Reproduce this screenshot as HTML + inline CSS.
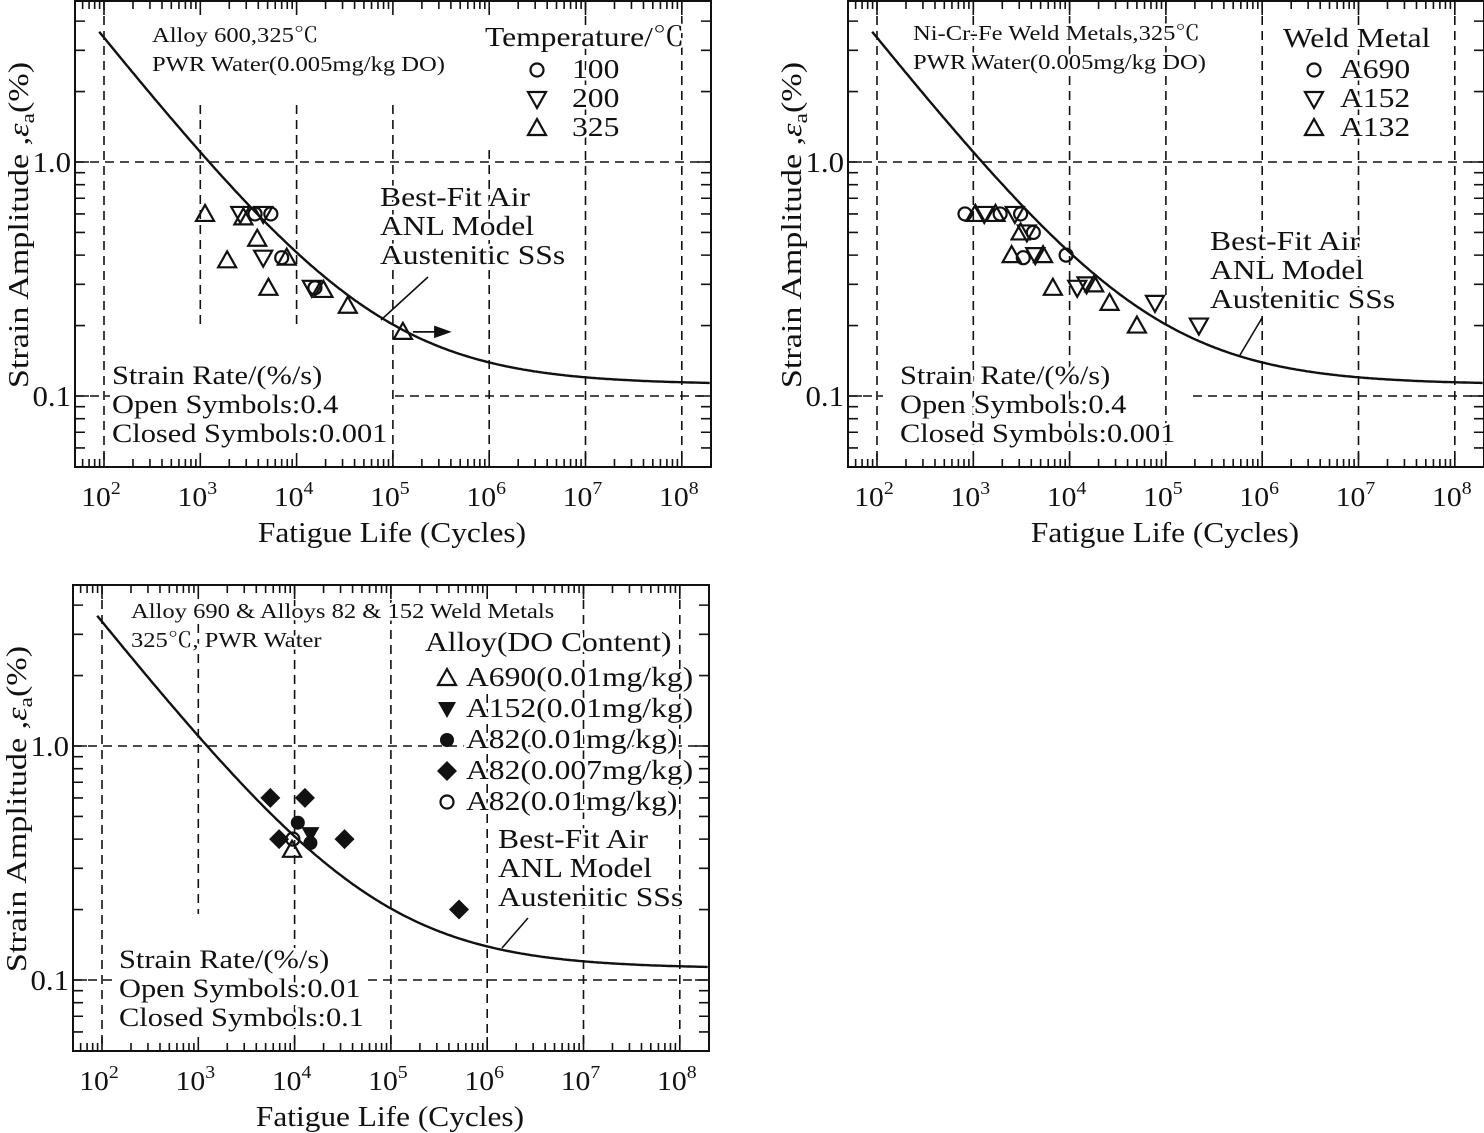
<!DOCTYPE html>
<html><head><meta charset="utf-8">
<style>
html,body{margin:0;padding:0;background:#fff;}
svg{display:block;font-family:"Liberation Serif","Noto Serif CJK SC",serif;}
text.h{paint-order:stroke;stroke:#fff;stroke-width:5px;stroke-linejoin:round;}
</style></head>
<body>
<svg id="chart" width="1484" height="1133" viewBox="0 0 1484 1133" xmlns="http://www.w3.org/2000/svg"></svg>
<script>
// ---- Panel 1 data (Alloy 600) ----
const p1Types = ['tri','tri','tridown','tri','circle','tridown','circle','tri','tridown','tri','circle','tri','tridown','circle','tri','tri','tri'];
const p1N =     [1120, 1900, 2600, 2800, 3700, 4500, 5400, 3900, 4500, 5100, 7000, 7900, 14400, 15500, 19000, 34000, 127000];
const p1E =     [0.60, 0.38, 0.60, 0.58, 0.60, 0.60, 0.60, 0.47, 0.39, 0.29, 0.39, 0.39, 0.29, 0.29, 0.284, 0.243, 0.188];
// ---- Panel 2 data (Ni-Cr-Fe weld metals) ----
const p2Types = ['circle','tri','tridown','tri','circle','tridown','circle','tri','tridown','circle','tri','circle','tridown','tri','circle','tri','tridown','tridown','tri','tri','tridown','tri','tridown'];
const p2N =     [820, 1050, 1300, 1700, 1900, 2700, 3100, 3100, 3600, 4200, 2500, 3300, 4400, 5300, 9200, 6700, 12000, 15000, 18000, 26000, 77000, 50000, 220000];
const p2E =     [0.60, 0.60, 0.60, 0.60, 0.60, 0.60, 0.60, 0.50, 0.50, 0.50, 0.40, 0.39, 0.40, 0.40, 0.40, 0.29, 0.29, 0.30, 0.30, 0.25, 0.25, 0.20, 0.20];
// ---- Panel 3 data (Alloy 690 & 82/152) ----
const p3Types = ['diamond','diamond','dot','diamond','circle','tridownf','dot','diamond','tri','diamond'];
const p3N =     [5600, 12800, 10800, 6900, 9600, 14600, 14600, 33000, 9400, 510000];
const p3E =     [0.60, 0.60, 0.47, 0.40, 0.40, 0.42, 0.385, 0.40, 0.36, 0.20];
// tick labels
const xDecades = [2,3,4,5,6,7,8];
const yMajors = [0.1, 1.0];
const yMajorLabels = ['0.1','1.0'];

const NS='http://www.w3.org/2000/svg';
const svg=document.getElementById('chart');
function el(tag, attrs, parent){
  const e=document.createElementNS(NS,tag);
  for(const k in attrs) e.setAttribute(k,attrs[k]);
  (parent||svg).appendChild(e);
  return e;
}
function txt(x,y,s,size,anchor,name,parent,sx){
  const t=el('text',{x:0,y:0,'font-size':size,'text-anchor':anchor||'start',fill:'#111',class:'h',transform:`translate(${x},${y}) scale(${sx||1.17},1)`},parent);
  t.textContent=s;
  
  
  return t;
}
function makeScales(ox,oy){
  return {
    x:n=>ox+104+(Math.log10(n)-2)*96.3,
    y:e=>oy+162-Math.log10(e)*234
  };
}
function marker(g,type,x,y){
  let m;
  if(type==='circle') m=el('circle',{cx:x,cy:y,r:6.5,fill:'none',stroke:'#111','stroke-width':2.2},g);
  else if(type==='dot') m=el('circle',{cx:x,cy:y,r:7,fill:'#111'},g);
  else if(type==='tri') m=el('polygon',{points:`${x},${y-9} ${x-9},${y+7} ${x+9},${y+7}`,fill:'none',stroke:'#111','stroke-width':2.2},g);
  else if(type==='tridown') m=el('polygon',{points:`${x},${y+9} ${x-9},${y-7} ${x+9},${y-7}`,fill:'none',stroke:'#111','stroke-width':2.2},g);
  else if(type==='tridownf') m=el('polygon',{points:`${x},${y+9} ${x-9},${y-7} ${x+9},${y-7}`,fill:'#111'},g);
  else m=el('polygon',{points:`${x},${y-10} ${x+10},${y} ${x},${y+10} ${x-10},${y}`,fill:'#111'},g);
  
  
  return m;
}
function panel(cfg){
  const ox=cfg.ox, oy=cfg.oy, S=makeScales(ox,oy);
  const g=el('g',{});
  
  
  const L=ox+75,R=ox+711,T=oy+1,B=oy+467;
  const dash={stroke:'#111','stroke-width':1.6,'stroke-dasharray':'9,6',fill:'none'};
  cfg.vlines.forEach(v=>{
    const gl=el('line',Object.assign({x1:S.x(Math.pow(10,v[0])),x2:S.x(Math.pow(10,v[0])),y1:oy+v[1],y2:oy+v[2]},dash),g);
    
    
  });
  cfg.hlines.forEach(h=>{
    const gl=el('line',Object.assign({x1:ox+h[1],x2:ox+h[2],y1:S.y(h[0]),y2:S.y(h[0])},dash),g);
    
    
  });
  // text blocks (drawn before ticks/frame/curve so halos only cover grid)
  cfg.sr.forEach((s,i)=>txt(ox+cfg.srx,oy+384+i*29,s,26,'start','strain-rate-note',g));
  cfg.title.forEach((s,i)=>txt(ox+cfg.tx,oy+cfg.ty+i*29,s,cfg.tsize,'start','panel-title',g));
  txt(ox+cfg.leg.x,oy+cfg.leg.y,cfg.leg.head,cfg.leg.hs,'start','legend-title',g);
  cfg.leg.items.forEach((it,i)=>{
    const yy=oy+cfg.leg.y0+i*cfg.leg.dy;
    txt(ox+cfg.leg.tx,yy,it[1],27,'start','legend-entry',g);
  });
  ['Best-Fit Air','ANL Model','Austenitic SSs'].forEach((s,i)=>txt(ox+cfg.bf[0],oy+cfg.bf[1]+i*29,s,27,'start','curve-annotation',g));
  cfg.leg.items.forEach((it,i)=>{ marker(g,it[0],ox+cfg.leg.mx,oy+cfg.leg.y0+i*cfg.leg.dy-8); });
  // ticks
  let tp='';
  for(let d=1;d<=8;d++){for(let k=1;k<=9;k++){const n=k*Math.pow(10,d);const x=S.x(n);if(x<L+1||x>R-1)continue;const len=(k===1)?14:8;tp+=`M${x},${B}V${B-len}M${x},${T}V${T+len}`;}}
  for(let d=-2;d<=0;d++){for(let k=1;k<=9;k++){const e=k*Math.pow(10,d);const y=S.y(e);if(y<T+1||y>B-1)continue;const len=(k===1)?14:10;tp+=`M${L},${y}H${L+len}M${R},${y}H${R-len}`;}}
  const ticks=el('path',{d:tp,stroke:'#111','stroke-width':1.6,fill:'none'},g);
  
  
  const box=el('rect',{x:L,y:T,width:R-L,height:B-T,fill:'none',stroke:'#111','stroke-width':2},g);
  
  
  xDecades.forEach(d=>{
    const t=txt(S.x(Math.pow(10,d))-3,oy+506,'10',27,'middle','x-tick-label',g,1.1);
    const s=el('tspan',{'font-size':18,dy:-12},t); s.textContent=String(d);
  });
  yMajors.forEach((v,i)=>{ txt(ox+71,S.y(v)+10,yMajorLabels[i],28,'end','y-tick-label',g,1.1); });
  txt(ox+392,oy+542,'Fatigue Life (Cycles)',28,'middle','x-axis-title',g,1.12);
  const yt=el('text',{'font-size':28,'text-anchor':'middle',fill:'#111',transform:`translate(${ox+28},${oy+225}) rotate(-90) scale(1.22,1)`},g);
  
  
  const e0=el('tspan',{},yt); e0.textContent='Strain Amplitude ,';
  const e1=el('tspan',{'font-style':'italic'},yt); e1.textContent='ε';
  const e2=el('tspan',{'font-size':19,dy:6},yt); e2.textContent='a';
  const e3=el('tspan',{dy:-6},yt); e3.textContent='(%)';
  let cp='';
  for(let lg=cfg.c0;lg<=8.3;lg+=0.02){const n=Math.pow(10,lg);const e=0.112+Math.exp((6.891-Math.log(n))/1.920);cp+=(cp?'L':'M')+S.x(n).toFixed(1)+','+S.y(e).toFixed(1);}
  const cv=el('path',{d:cp,stroke:'#111','stroke-width':2.4,fill:'none'},g);
  
  
  const ld=el('line',{x1:ox+cfg.lead[0],y1:oy+cfg.lead[1],x2:ox+cfg.lead[2],y2:oy+cfg.lead[3],stroke:'#111','stroke-width':1.6},g);
  
  
  cfg.types.forEach((t,i)=>marker(g,t,S.x(cfg.N[i]),S.y(cfg.E[i])));
  return {g,S};
}
const p1=panel({name:'panel-alloy-600',ox:0,oy:0,c0:1.95,types:p1Types,N:p1N,E:p1E,
  vlines:[[2,1,467],[3,105,325],[4,105,325],[5,105,467],[6,150,467],[7,1,467],[8,1,467]],
  hlines:[[1.0,75,711],[0.1,75,110],[0.1,395,711]],
  lead:[381,320,428,277],bf:[380,206],
  sr:['Strain Rate/(%/s)','Open Symbols:0.4','Closed Symbols:0.001'],srx:112,
  title:['Alloy 600,325℃','PWR Water(0.005mg/kg DO)'],tx:152,ty:42,tsize:21,
  leg:{x:485,y:46,head:'Temperature/℃',hs:27,y0:78,dy:29,mx:537,tx:572,items:[['circle','100'],['tridown','200'],['tri','325']]}
});
{
  const a=el('path',{d:`M${p1.S.x(127000)+10},${p1.S.y(0.188)}H447M435,${p1.S.y(0.188)-5}L449,${p1.S.y(0.188)}L435,${p1.S.y(0.188)+5}Z`,stroke:'#111','stroke-width':1.8,fill:'#111'},p1.g);
  
  
}
panel({name:'panel-weld-metals',ox:773,oy:0,c0:1.95,types:p2Types,N:p2N,E:p2E,
  vlines:[[2,1,467],[3,1,467],[4,1,467],[5,1,467],[6,1,467],[7,1,467],[8,1,467]],
  hlines:[[1.0,75,711],[0.1,75,110],[0.1,420,711]],
  lead:[467,355,489,318],bf:[437,250],
  sr:['Strain Rate/(%/s)','Open Symbols:0.4','Closed Symbols:0.001'],srx:127,
  title:['Ni-Cr-Fe Weld Metals,325℃','PWR Water(0.005mg/kg DO)'],tx:140,ty:40,tsize:21,
  leg:{x:510,y:47,head:'Weld Metal',hs:27,y0:78,dy:29,mx:541,tx:567,items:[['circle','A690'],['tridown','A152'],['tri','A132']]}
});
panel({name:'panel-alloy-690',ox:-2,oy:584,c0:1.95,types:p3Types,N:p3N,E:p3E,
  vlines:[[2,1,467],[3,40,330],[4,1,467],[5,1,467],[6,110,467],[7,1,467],[8,1,467]],
  hlines:[[1.0,75,711],[0.1,75,120],[0.1,370,711]],
  lead:[504,364,530,334],bf:[500,264],
  sr:['Strain Rate/(%/s)','Open Symbols:0.01','Closed Symbols:0.1'],srx:121,
  title:['Alloy 690 & Alloys 82 & 152 Weld Metals','325℃, PWR Water'],tx:133,ty:34,tsize:21,
  leg:{x:427,y:67,head:'Alloy(DO Content)',hs:27,y0:102,dy:31,mx:449,tx:468,items:[['tri','A690(0.01mg/kg)'],['tridownf','A152(0.01mg/kg)'],['dot','A82(0.01mg/kg)'],['diamond','A82(0.007mg/kg)'],['circle','A82(0.01mg/kg)']]}
});
</script>
</body></html>
